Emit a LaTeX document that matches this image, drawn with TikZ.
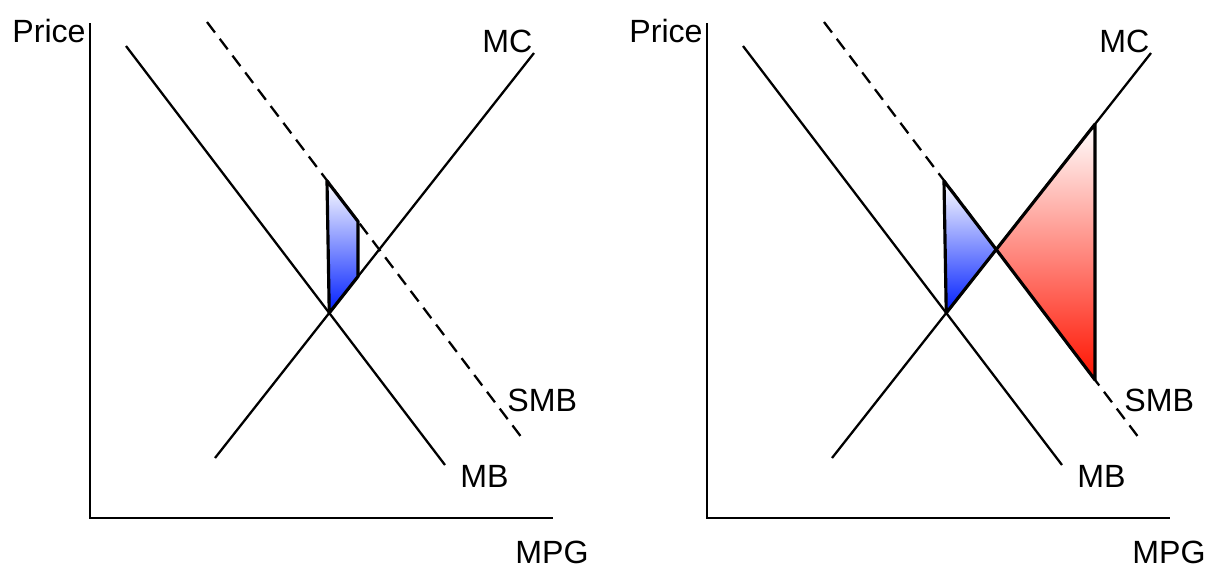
\documentclass[tikz,border=0pt]{standalone}
\usepackage{fontspec}
\setmainfont{Liberation Sans}
\begin{document}
\begin{tikzpicture}[
  x=0.02cm, y=-0.02cm,
  font=\fontsize{18.3}{22}\selectfont,
  axis/.style={line width=1.3pt},
  curve/.style={line width=1.3pt},
  social/.style={line width=1.3pt, dash pattern=on 7.5pt off 4.5pt},
  label/.style={anchor=base west, inner sep=0pt},
  gain/.style={draw, line width=1.8pt, line join=round,
    top color=white, bottom color=blue!88!cyan},
  loss/.style={draw, line width=1.8pt, line join=round,
    top color=white, bottom color=red!85!orange}
]
\useasboundingbox (0,0) rectangle (1207,569);

% --- both panels: axes, curves, labels ---
\foreach \dx/\p in {0/a, 617/b}{
  \begin{scope}[shift={(\dx,0)}]
    \coordinate (origin\p) at (90,518);
    \coordinate (ytop\p) at (90,23);
    \coordinate (xend\p) at (553,518);
    \draw[axis] (ytop\p) -- (origin\p) -- (xend\p);

    \coordinate (mbtop\p) at (126,46);
    \coordinate (mbend\p) at (445,465);
    \coordinate (smbtop\p) at (207,22);
    \coordinate (smbend\p) at (522,438);
    \coordinate (mcbot\p) at (215,458);
    \coordinate (mctop\p) at (534,53);

    \draw[social] (smbtop\p) -- (smbend\p);
    \draw[curve] (mbtop\p) -- (mbend\p);
    \draw[curve] (mcbot\p) -- (mctop\p);

    \node[label] (price\p) at (12,42) {Price};
    \node[label] (mpg\p) at (515,563) {MPG};
    \node[label] (mc\p) at (482,52) {MC};
    \node[label] (mb\p) at (460,487) {MB};
    \node[label] (smb\p) at (507,411) {SMB};
  \end{scope}
}

% --- left panel: shaded gain ---
\coordinate (eqa) at (intersection of mbtopa--mbenda and mcbota--mctopa);
\coordinate (cuta) at (358,0);
\coordinate (cutbota) at (358,569);
\draw[gain] (327,181)
  -- (intersection of smbtopa--smbenda and cuta--cutbota)
  -- (intersection of mcbota--mctopa and cuta--cutbota)
  -- (eqa) -- cycle;

% --- right panel: gain and loss ---
\coordinate (eqb) at (intersection of mbtopb--mbendb and mcbotb--mctopb);
\coordinate (crossb) at (intersection of smbtopb--smbendb and mcbotb--mctopb);
\coordinate (cutb) at (1095,0);
\coordinate (cutbotb) at (1095,569);
\draw[gain] (944,181) -- (crossb) -- (eqb) -- cycle;
\draw[loss] (crossb)
  -- (intersection of mcbotb--mctopb and cutb--cutbotb)
  -- (intersection of smbtopb--smbendb and cutb--cutbotb) -- cycle;

\end{tikzpicture}
\end{document}
